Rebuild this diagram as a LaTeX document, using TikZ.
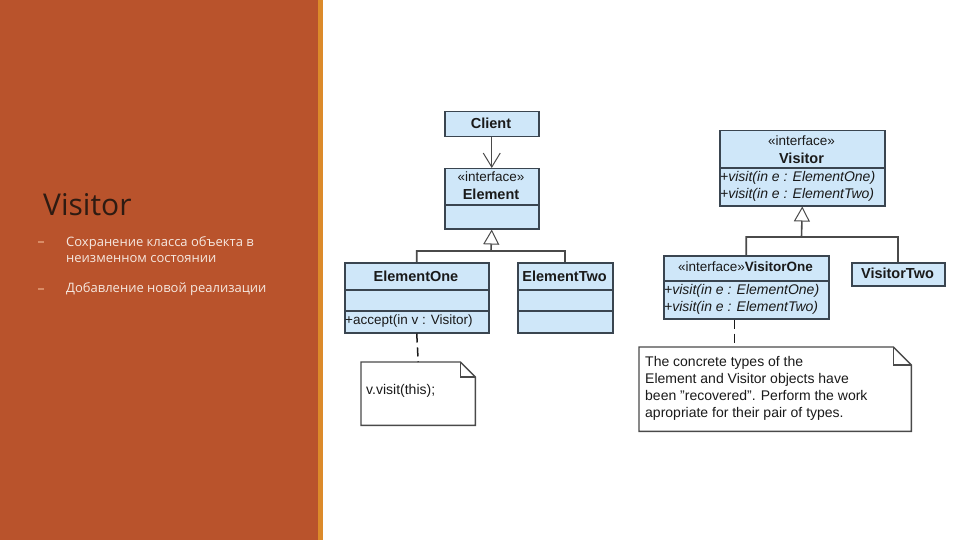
\documentclass[tikz,border=0pt]{standalone}
\usepackage{fontspec}
\setmainfont{Liberation Sans}
\newfontfamily\slidefont{Open Sans}
\usetikzlibrary{arrows.meta,calc}

\definecolor{panel}{HTML}{B9532C}
\definecolor{panelstrip}{HTML}{DC8A2A}
\definecolor{titledark}{HTML}{2E1B12}
\definecolor{bullettext}{HTML}{F6E8E0}
\definecolor{bulletmark}{HTML}{D98C66}
\definecolor{boxfill}{HTML}{CFE7F9}
\definecolor{boxline}{HTML}{3A4550}
\definecolor{linegray}{HTML}{4A4A4A}
\definecolor{textdark}{HTML}{1A1A1A}

\begin{document}
\begin{tikzpicture}[
    x=1pt, y=-1pt,
    umlbox/.style={draw=boxline, fill=boxfill, line width=1.5pt, inner sep=0pt, anchor=north west},
    classname/.style={font=\fontsize{14.5}{16}\selectfont\bfseries, text=textdark, inner sep=0pt},
    stereo/.style={font=\fontsize{13.5}{16}\selectfont, text=textdark, inner sep=0pt},
    method/.style={font=\fontsize{14}{16}\selectfont\itshape, text=textdark, inner sep=0pt, anchor=west},
    divider/.style={draw=boxline, line width=1.5pt},
    assoc/.style={draw=linegray, line width=1.2pt, -{Straight Barb[length=14pt,width=17pt,line width=1pt]}},
    inherit/.style={draw=linegray, line width=1.6pt, -{Triangle[open,length=15pt,width=16pt,fill=white,line width=1pt]}},
    generalise/.style={draw=linegray, line width=1.6pt},
    anchorline/.style={draw=textdark, line width=1.5pt, dash pattern=on 9pt off 5pt},
    notebox/.style={inner sep=0pt, anchor=north west},
    notedraw/.style={draw=linegray, fill=white, line width=1.4pt},
    notetext/.style={font=\fontsize{14}{17}\selectfont, text=textdark, inner sep=0pt, anchor=north west, align=left},
    slidetitle/.style={font=\slidefont\fontsize{30}{36}\selectfont, text=titledark, inner sep=0pt, anchor=base west},
    slidetext/.style={font=\slidefont\fontsize{13}{16}\selectfont, text=bullettext, inner sep=0pt, anchor=north west, align=left}
]
\useasboundingbox (0,0) rectangle (960,540);

% Slide panel
\fill[white] (0,0) rectangle (960,540);
\fill[panel] (0,0) rectangle (318,540);
\fill[panelstrip] (318,0) rectangle (323,540);

% Title and bullets
\node[slidetitle] (title) at (43,215) {Visitor};
\fill[bulletmark] (38,241) rectangle (44,243);
\node[slidetext] (bulletone) at (66,236) {Сохранение класса объекта в\\неизменном состоянии};
\fill[bulletmark] (38,288) rectangle (44,290);
\node[slidetext] (bullettwo) at (66,282) {Добавление новой реализации};

% Client and Element
\node[umlbox, minimum width=94pt, minimum height=25pt] (client) at (444,111) {};
\node[classname] at (491,123.5) {Client};
\node[umlbox, minimum width=94pt, minimum height=60pt] (element) at (444,168) {};
\node[stereo] at (491,177) {«interface»};
\node[classname] at (491,194) {Element};
\draw[divider] (444,205) -- (538,205);
\draw[assoc] (client) -- (element);

% Concrete elements
\node[umlbox, minimum width=144pt, minimum height=70pt] (elemone) at (344,262) {};
\node[classname] at (416,276) {ElementOne};
\draw[divider] (344,290) -- (488,290);
\draw[divider] (344,311) -- (488,311);
\node[stereo, anchor=west] at (345,321) {+accept(in v : Visitor)};
\node[umlbox, minimum width=95pt, minimum height=70pt] (elemtwo) at (517,262) {};
\node[classname] at (564.5,276) {ElementTwo};
\draw[divider] (517,290) -- (612,290);
\draw[divider] (517,311) -- (612,311);

\coordinate (elemjoin) at (491,251);
\draw[inherit] (elemone.north) |- (elemjoin) -- (element.south);
\draw[generalise] (elemtwo.north) |- (elemjoin);

% Note on accept
\node[notebox, minimum width=114pt, minimum height=63pt] (noteone) at (361,362) {};
\draw[notedraw] (noteone.north west) -- ($(noteone.north east)+(-15,0)$) -- ($(noteone.north east)+(0,15)$) -- (noteone.south east) -- (noteone.south west) -- cycle;
\draw[notedraw, fill=none] ($(noteone.north east)+(-15,0)$) |- ($(noteone.north east)+(0,15)$);
\node[notetext] at (366,384) {v.visit(this);};
\draw[anchorline] (elemone.south) -- (noteone.north);

% Visitor interface
\node[umlbox, minimum width=165pt, minimum height=75pt] (visitor) at (719,130) {};
\node[stereo] at (801.5,141) {«interface»};
\node[classname] at (801.5,158) {Visitor};
\draw[divider] (719,168) -- (884,168);
\node[method] at (720,178) {+visit(in e : ElementOne)};
\node[method] at (720,195) {+visit(in e : ElementTwo)};

% Concrete visitors
\node[umlbox, minimum width=165pt, minimum height=63pt] (visone) at (663,255) {};
\node[stereo] at (745.5,267) {«interface»\textbf{VisitorOne}};
\draw[divider] (663,281) -- (828,281);
\node[method] at (664,291) {+visit(in e : ElementOne)};
\node[method] at (664,308) {+visit(in e : ElementTwo)};
\node[umlbox, minimum width=93pt, minimum height=23pt] (vistwo) at (851,262) {};
\node[classname] at (897.5,273.5) {VisitorTwo};

\coordinate (visjoin) at (801.5,237);
\draw[inherit] (visone.north) |- (visjoin) -- (visitor.south);
\draw[generalise] (vistwo.north) |- (visjoin);

% Note on visit
\node[notebox, minimum width=272pt, minimum height=84pt] (notetwo) at (639,347) {};
\draw[notedraw] (notetwo.north west) -- ($(notetwo.north east)+(-18,0)$) -- ($(notetwo.north east)+(0,18)$) -- (notetwo.south east) -- (notetwo.south west) -- cycle;
\draw[notedraw, fill=none] ($(notetwo.north east)+(-18,0)$) |- ($(notetwo.north east)+(0,18)$);
\node[notetext] at (645,356) {The concrete types of the\\Element and Visitor objects have\\been "recovered". Perform the work\\apropriate for their pair of types.};
\draw[anchorline] ([xshift=-12pt]visone.south) -- ([xshift=-12pt]visone.south |- notetwo.north);

\end{tikzpicture}
\end{document}
